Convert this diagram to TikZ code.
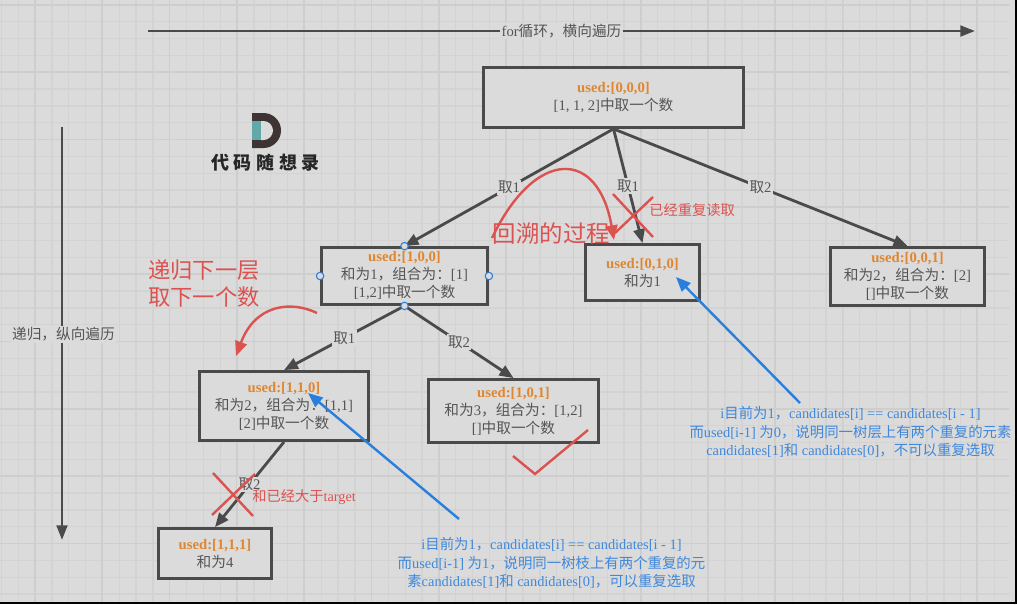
\documentclass[tikz,border=0pt]{standalone}
\usepackage{fontspec}
\setmainfont{Liberation Serif}
\newfontfamily\cjkfont{Noto Sans CJK SC}
\newcommand\zh[1]{{\cjkfont #1}}
\usetikzlibrary{arrows.meta}
\definecolor{bgc}{HTML}{DBDBDB}
\definecolor{gridminor}{HTML}{D3D3D3}
\definecolor{gridmajor}{HTML}{CECECE}
\definecolor{inkc}{HTML}{4A4A4A}
\definecolor{txtc}{HTML}{555555}
\definecolor{orangec}{HTML}{E0862F}
\definecolor{redc}{HTML}{DB5250}
\definecolor{bluec}{HTML}{2A7FDC}
\definecolor{bluetxt}{HTML}{3F88DC}
\definecolor{tealc}{HTML}{62A8A8}
\definecolor{logoc}{HTML}{3E3434}
\tikzset{
  treebox/.style={draw=inkc,line width=2.1pt,fill=bgc,align=center,text=txtc,font=\fontsize{11}{13.5}\selectfont,inner sep=0pt},
  edgeline/.style={draw=inkc,line width=2.1pt,-{Triangle[length=10.5pt,width=8.5pt]}},
  axisline/.style={draw=inkc,line width=2.1pt,-{Triangle[length=11pt,width=8pt]}},
  edgelabel/.style={fill=bgc,text=txtc,font=\fontsize{11}{13.5}\selectfont,inner sep=1pt},
  handle/.style={circle,draw=bluec,fill=bgc,line width=0.8pt,minimum size=5.6pt,inner sep=0pt},
  redline/.style={draw=redc,line width=1.8pt},
  redarrow/.style={draw=redc,line width=1.8pt,-{Triangle[length=11pt,width=9pt]}},
  bluearrow/.style={draw=bluec,line width=1.8pt,-{Triangle[length=11pt,width=9pt]}},
  redtext/.style={text=redc,inner sep=0pt},
  bluetext/.style={text=bluetxt,align=center,inner sep=0pt,font=\fontsize{10.8}{13.8}\selectfont},
}
\newcommand\boxat[6]{\node[treebox,minimum width={(#4-#2-1)*0.75pt},minimum height={(#5-#3-1)*0.75pt}] (#1) at ({(#2+#4)/2},{(#3+#5)/2}) {#6};}
\newcommand\used[1]{{\color{orangec}\bfseries used:[#1]}}
\begin{document}
\begin{tikzpicture}[x=0.75pt,y=-0.75pt]
\useasboundingbox (0,0) rectangle (1017,604);
\fill[black] (0,0) rectangle (1017,604);
\fill[bgc] (0,0) rectangle (1015,602);
% grid
\begin{scope}
\clip (0,0) rectangle (1009,602);
\foreach \i in {0,...,60} {
  \draw[gridminor,line width=1pt] ({1.4+16.83*\i},0) -- ({1.4+16.83*\i},602);
}
\foreach \i in {0,...,36} {
  \draw[gridminor,line width=1pt] (0,{5+16.83*\i}) -- (1015,{5+16.83*\i});
}
\foreach \i in {0,...,15} {
  \draw[gridmajor,line width=1.3pt] ({35+67.3*\i},0) -- ({35+67.3*\i},602);
}
\foreach \i in {0,...,9} {
  \draw[gridmajor,line width=1.3pt] (0,{5+67.3*\i}) -- (1015,{5+67.3*\i});
}
\end{scope}
% axes
\coordinate (forA) at (148,31);
\coordinate (forB) at (975,31);
\coordinate (recA) at (62,127);
\coordinate (recB) at (62,540);
\draw[axisline] (forA) -- node[edgelabel] {for\zh{循环，横向遍历}} (forB);
\draw[axisline] (recA) -- node[edgelabel,xshift=1.1pt,yshift=-0.6pt] {\zh{递归，纵向遍历}} (recB);
% logo
\fill[logoc] (252,113) -- (263.5,113) arc[start angle=-90,end angle=90,radius=17.5] -- (252,148) -- cycle;
\fill[bgc] (261,121) -- (263.5,121) arc[start angle=-90,end angle=90,radius=9.5] -- (261,140) -- cycle;
\fill[tealc] (252,121) rectangle (261,140);
\node[inner sep=0pt,text=black!85] (logotext) at (265.5,163) {\fontsize{13.5}{15}\cjkfont\bfseries 代\hspace{3.5pt}码\hspace{3.5pt}随\hspace{3.5pt}想\hspace{3.5pt}录};
% boxes
\boxat{root}{483}{67}{744}{128}{\used{0,0,0}\\{[1, 1, 2]}\zh{中取一个数}}
\boxat{nA}{321}{247}{488}{305}{\used{1,0,0}\\\zh{和为}1\zh{，组合为：}[1]\\{[1,2]}\zh{中取一个数}}
\boxat{nB}{585}{244}{700}{301}{\used{0,1,0}\\\zh{和为}1}
\boxat{nC}{830}{247}{985}{306}{\used{0,0,1}\\\zh{和为}2\zh{，组合为：}[2]\\{[]}\zh{中取一个数}}
\boxat{nD}{199}{371}{369}{441}{\used{1,1,0}\\\zh{和为}2\zh{，组合为：}[1,1]\\{[2]}\zh{中取一个数}}
\boxat{nE}{428}{379}{599}{443}{\used{1,0,1}\\\zh{和为}3\zh{，组合为：}[1,2]\\{[]}\zh{中取一个数}}
\boxat{nF}{158}{528}{272}{579}{\used{1,1,1}\\\zh{和为}4}
% tree edges
\draw[edgeline] (root.south) -- node[edgelabel] {\zh{取}1} (nA.north);
\draw[edgeline] (root.south) -- node[edgelabel] {\zh{取}1} (nB.north);
\draw[edgeline] (root.south) -- node[edgelabel] {\zh{取}2} (nC.north);
\draw[edgeline] (nA.south) -- node[edgelabel] {\zh{取}1} (nD.north);
\draw[edgeline] (nA.south) -- node[edgelabel] {\zh{取}2} (nE.north);
\draw[edgeline] (nD.south) -- node[edgelabel] {\zh{取}2} (nF.north);
% selection handles
\node[handle] (hN) at (nA.north) {};
\node[handle] (hS) at (nA.south) {};
\node[handle] (hE) at (nA.east) {};
\node[handle] (hW) at (nA.west) {};
% red annotations
\node[redtext,anchor=center] (backtext) at (551.5,234) {\fontsize{17.6}{20}\cjkfont 回溯的过程};
\coordinate (backA) at (492,238);
\coordinate (backB) at (614,240);
\draw[redarrow] (backA) .. controls (535,148) and (598,148) .. (backB);
\coordinate (downA) at (317,313);
\coordinate (downB) at (236,356);
\draw[redarrow] (downA) .. controls (290,300) and (255,305) .. (downB);
\node[redtext] (downtext) at (204,286.5) {\fontsize{16.7}{20.3}\cjkfont\begin{tabular}{@{}c@{}}递归下一层\\取下一个数\end{tabular}};
\draw[redline] (613,194) -- (653,237);
\draw[redline] (653,197) -- (615,233);
\node[redtext,anchor=west] (duptext) at (649,210) {\fontsize{10.7}{13}\cjkfont 已经重复读取};
\draw[redline] (213,473) -- (253,516);
\draw[redline] (255,474) -- (212,515);
\node[redtext,anchor=west] (overtext) at (252,497) {\fontsize{10.7}{13}\selectfont\zh{和已经大于}target};
\draw[redline] (513,456) -- (535,474) -- (588,430);
% blue annotations
\coordinate (blueA) at (459,519);
\coordinate (blueB) at (308,393);
\coordinate (blueC) at (800,403);
\coordinate (blueD) at (676,277);
\draw[bluearrow] (blueA) -- (blueB);
\draw[bluearrow] (blueC) -- (blueD);
\node[bluetext] (noteB) at (850.5,432) {i\zh{目前为}1\zh{，}candidates[i] == candidates[i - 1]\\\zh{而}used[i-1] \zh{为}0\zh{，说明同一树层上有两个重复的元素}\\candidates[1]\zh{和} candidates[0]\zh{，不可以重复选取}};
\node[bluetext] (noteA) at (551.5,563) {i\zh{目前为}1\zh{，}candidates[i] == candidates[i - 1]\\\zh{而}used[i-1] \zh{为}1\zh{，说明同一树枝上有两个重复的元}\\\zh{素}candidates[1]\zh{和} candidates[0]\zh{，可以重复选取}};
\end{tikzpicture}
\end{document}
